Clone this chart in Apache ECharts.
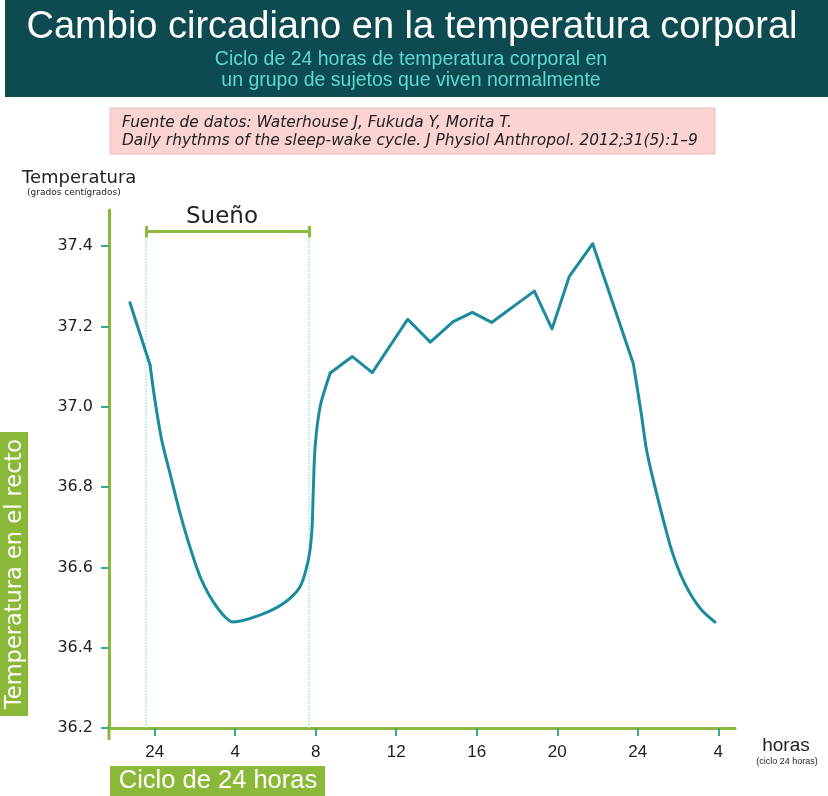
<!DOCTYPE html>
<html>
<head>
<meta charset="utf-8">
<script src="https://cdn.jsdelivr.net/npm/echarts@6/dist/echarts.min.js"></script>
<style>
  html, body { margin: 0; padding: 0; background: #fff; }
  #chart { width: 828px; height: 796px; }
</style>
</head>
<body>
<div id="chart"></div>
<script>
// horas contadas desde la medianoche del primer día (24 = medianoche)
const hours = [22.77, 23.77, 24.01, 24.35, 24.76, 25.26, 25.75, 26.33, 27.08, 27.90,
  29.22, 30.39, 31.22, 31.63, 31.80, 31.88, 31.97, 32.22, 32.72,
  33.82, 34.81, 36.57, 37.69, 38.83, 39.78, 40.74, 42.86, 43.74, 44.60, 45.76, 47.78,
  48.17, 48.44, 48.85, 49.27, 49.68, 50.10, 50.60, 51.17, 51.83];
const temps = [37.259, 37.104, 37.017, 36.917, 36.834, 36.735, 36.651, 36.568, 36.502, 36.464,
  36.481, 36.510, 36.552, 36.618, 36.685, 36.793, 36.901, 37.000, 37.084,
  37.125, 37.085, 37.218, 37.161, 37.212, 37.235, 37.210, 37.288, 37.194, 37.325, 37.406, 37.107,
  36.984, 36.891, 36.801, 36.718, 36.643, 36.585, 36.535, 36.494, 36.464];
// tramos: recto / curvo / quebrado / curvo (índices en hours)
const segments = [[0, 1, false], [1, 18, true], [18, 30, false], [30, 39, true]];
const hourTicks = [24, 28, 32, 36, 40, 44, 48, 52];
const tempTicks = [36.2, 36.4, 36.6, 36.8, 37.0, 37.2, 37.4];
const sleepStart = 23.57;
const sleepEnd = 31.66;
const bracketY = 37.436;

const green = '#8cb83a';
const tickColor = '#3aaa8c';
const curveColor = '#1a8c9e';

const chart = echarts.init(document.getElementById('chart'));

const dotted = { color: '#a6dede', width: 1.5, type: 'dotted' };
const bracket = { color: green, width: 3, type: 'solid' };

const points = hours.map((h, i) => [h, temps[i]]);
const lineSeries = segments.map(([a, b, smooth]) => ({
  type: 'line',
  data: points.slice(a, b + 1),
  showSymbol: false,
  smooth: smooth ? 0.3 : false,
  lineStyle: { color: curveColor, width: 3, cap: 'round', join: 'round' },
  z: 5,
}));

lineSeries[0].markLine = {
  silent: true,
  symbol: ['none', 'none'],
  label: { show: false },
  data: [
    [{ coord: [sleepStart, 36.2], lineStyle: dotted }, { coord: [sleepStart, bracketY] }],
    [{ coord: [sleepEnd, 36.2], lineStyle: dotted }, { coord: [sleepEnd, bracketY] }],
    [{ coord: [sleepStart, bracketY], lineStyle: bracket }, { coord: [sleepEnd, bracketY] }],
    [{ coord: [sleepStart, bracketY - 0.014], lineStyle: bracket }, { coord: [sleepStart, bracketY + 0.014] }],
    [{ coord: [sleepEnd, bracketY - 0.014], lineStyle: bracket }, { coord: [sleepEnd, bracketY + 0.014] }],
  ],
};

chart.setOption({
  animation: false,
  backgroundColor: '#ffffff',
  grid: { left: 109, right: 93, top: 210, bottom: 68 },
  xAxis: {
    type: 'value',
    min: 21.73,
    max: 52.83,
    splitLine: { show: false },
    axisLine: { lineStyle: { color: green, width: 3 } },
    axisTick: {
      customValues: hourTicks,
      length: 8,
      lineStyle: { color: tickColor, width: 2 },
    },
    axisLabel: {
      customValues: hourTicks,
      margin: 16,
      color: '#222',
      fontSize: 17,
      fontFamily: '"Liberation Sans Narrow", "Liberation Sans", sans-serif',
      formatter: v => (v % 24 === 0 ? '24' : String(v % 24)),
    },
  },
  yAxis: {
    type: 'value',
    min: 36.2,
    max: 37.49,
    splitLine: { show: false },
    axisLine: { lineStyle: { color: green, width: 3 } },
    axisTick: {
      customValues: tempTicks,
      length: 8,
      lineStyle: { color: tickColor, width: 2 },
    },
    axisLabel: {
      customValues: tempTicks,
      margin: 16,
      color: '#222',
      fontSize: 16,
      fontFamily: '"DejaVu Sans", sans-serif',
      formatter: v => v.toFixed(1),
    },
  },
  series: lineSeries,
  graphic: [
    { type: 'rect', shape: { x: 5, y: 0, width: 823, height: 97 }, style: { fill: '#0d4b50' } },
    // el eje vertical baja un poco por debajo del horizontal
    { type: 'rect', shape: { x: 107.5, y: 726, width: 3, height: 14 }, style: { fill: green } },
    {
      type: 'text', style: {
        x: 412, y: 28, text: 'Cambio circadiano en la temperatura corporal',
        textAlign: 'center', textVerticalAlign: 'middle',
        fill: '#ffffff', font: '38px "Liberation Sans", sans-serif',
      },
    },
    {
      type: 'text', style: {
        x: 411, y: 70, text: 'Ciclo de 24 horas de temperatura corporal en\nun grupo de sujetos que viven normalmente',
        textAlign: 'center', textVerticalAlign: 'middle', lineHeight: 21,
        fill: '#5ed8d2', font: '19.5px "Liberation Sans", sans-serif',
      },
    },
    {
      type: 'rect', shape: { x: 110, y: 108, width: 605, height: 46 },
      style: { fill: '#fbd3d3', stroke: '#ebbcbc', lineWidth: 1 },
    },
    {
      type: 'text', style: {
        x: 122, y: 132, text: 'Fuente de datos: Waterhouse J, Fukuda Y, Morita T.\nDaily rhythms of the sleep-wake cycle. J Physiol Anthropol. 2012;31(5):1–9',
        textAlign: 'left', textVerticalAlign: 'middle', lineHeight: 17.5,
        fill: '#222', font: 'italic 15.4px "DejaVu Sans", sans-serif',
      },
    },
    {
      type: 'text', style: {
        x: 22, y: 178, text: 'Temperatura', textVerticalAlign: 'middle',
        fill: '#222', font: '18px "DejaVu Sans", sans-serif',
      },
    },
    {
      type: 'text', style: {
        x: 27, y: 193, text: '(grados centígrados)', textVerticalAlign: 'middle',
        fill: '#222', font: '9px "DejaVu Sans", sans-serif',
      },
    },
    {
      type: 'text', style: {
        x: 222, y: 217, text: 'Sueño', textAlign: 'center', textVerticalAlign: 'middle',
        fill: '#222', font: '23px "DejaVu Sans", sans-serif',
      },
    },
    { type: 'rect', shape: { x: 0, y: 432, width: 28, height: 284 }, style: { fill: green } },
    {
      type: 'text', x: 15, y: 574, rotation: Math.PI / 2,
      style: {
        x: 0, y: 0, text: 'Temperatura en el recto', textAlign: 'center', textVerticalAlign: 'middle',
        fill: '#ffffff', font: '22.5px "DejaVu Sans", sans-serif',
      },
    },
    { type: 'rect', shape: { x: 110, y: 766, width: 215, height: 30 }, style: { fill: green } },
    {
      type: 'text', style: {
        x: 218, y: 781, text: 'Ciclo de 24 horas', textAlign: 'center', textVerticalAlign: 'middle',
        fill: '#ffffff', font: '25.5px "Liberation Sans Narrow", "Liberation Sans", sans-serif',
      },
    },
    {
      type: 'text', style: {
        x: 786, y: 746, text: 'horas', textAlign: 'center', textVerticalAlign: 'middle',
        fill: '#222', font: '19px "Liberation Sans Narrow", "Liberation Sans", sans-serif',
      },
    },
    {
      type: 'text', style: {
        x: 787, y: 762, text: '(ciclo 24 horas)', textAlign: 'center', textVerticalAlign: 'middle',
        fill: '#222', font: '9px "Liberation Sans Narrow", "Liberation Sans", sans-serif',
      },
    },
  ],
});
</script>
</body>
</html>
